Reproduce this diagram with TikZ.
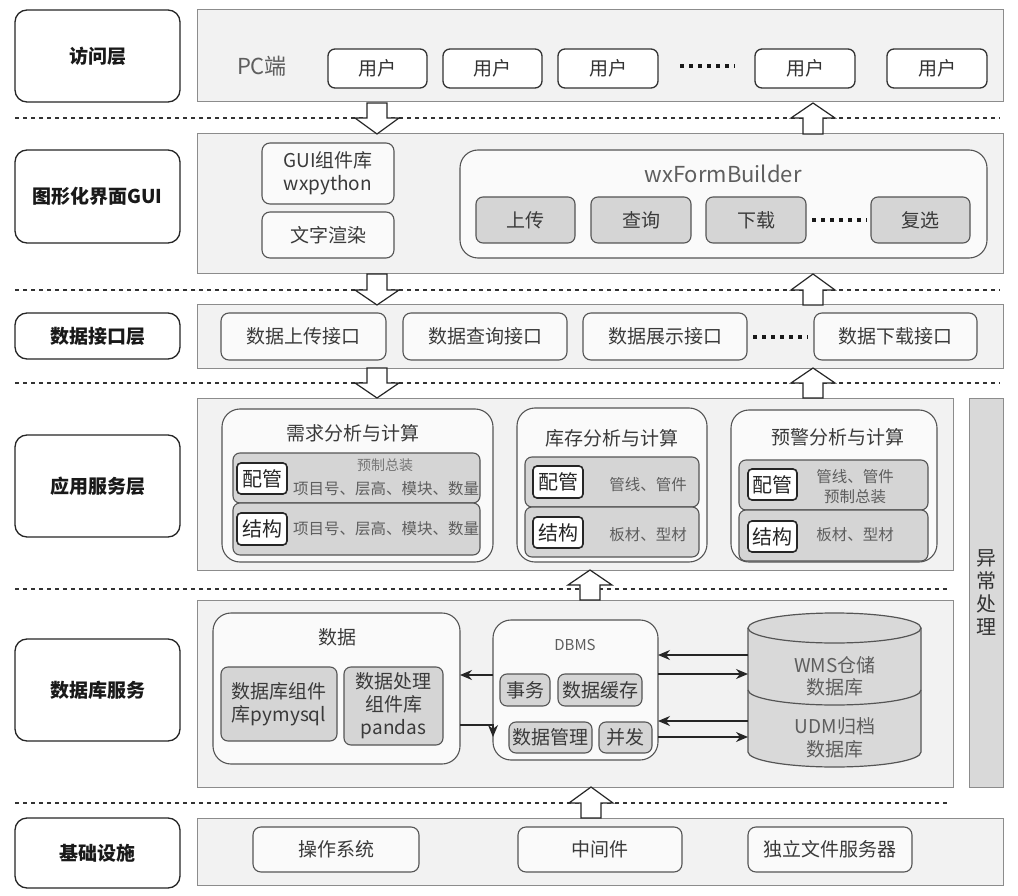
\documentclass[tikz,border=0pt]{standalone}
\usepackage{fontspec}
\setmainfont{Noto Sans CJK SC}
\usetikzlibrary{arrows.meta}
\definecolor{panelfill}{HTML}{F2F2F2}
\definecolor{panelline}{HTML}{8C8C8C}
\definecolor{boxline}{HTML}{555555}
\definecolor{gfill}{HTML}{D5D5D5}
\definecolor{wfill}{HTML}{FAFAFA}
\definecolor{txt}{HTML}{3A3A3A}
\definecolor{ltxt}{HTML}{5E5E5E}
\definecolor{exfill}{HTML}{D9D9D9}
\newcommand\fsz[2]{\fontsize{#1}{#2}\selectfont}
\newcommand\bx[7]{\node[#2, minimum width={#5-#3}, minimum height={#6-#4}] (#1) at ({(#3+#5)/2},{(#4+#6)/2}) {#7};}
\newcommand\blk[4]{\draw[blockarr] ({#1-10},#2) -- ({#1-10},#3) -- ({#1-22},#3) -- (#1,#4) -- ({#1+22},#3) -- ({#1+10},#3) -- ({#1+10},#2) -- cycle;}
\begin{document}
\begin{tikzpicture}[x=1pt,y=-1pt,
  base/.style={inner sep=0pt, outer sep=0pt, align=center, text=txt, font=\fsz{19}{23}},
  lab/.style={base, draw=black!85, line width=1.3pt, rounded corners=12pt, fill=white, text=black!90, font=\fsz{19}{23}\bfseries},
  panel/.style={base, draw=panelline, fill=panelfill, line width=1pt},
  wbox/.style={base, draw=boxline, fill=wfill, line width=1.1pt, rounded corners=8pt},
  ubox/.style={base, draw=black!80, fill=white, line width=1.3pt, rounded corners=7pt, text=black!80},
  gbox/.style={base, draw=boxline, fill=gfill, line width=1.1pt, rounded corners=7pt},
  bigbox/.style={base, draw=boxline, fill=wfill, line width=1.1pt, rounded corners=18pt},
  tagbox/.style={base, draw=black!85, fill=white, line width=1.6pt, rounded corners=4pt, text=black!85, font=\fsz{20}{24}},
  rowtxt/.style={base, text=ltxt, font=\fsz{15.5}{18}},
  smalltxt/.style={base, text=ltxt!85, font=\fsz{14}{17}},
  exbox/.style={base, draw=panelline, fill=exfill, line width=1pt},
  dashln/.style={draw=black!80, line width=1.2pt, dash pattern=on 4pt off 4pt},
  blockarr/.style={draw=black!85, fill=white, line width=1.2pt, line join=miter},
  conn/.style={draw=black!85, line width=1.2pt, -{Stealth[length=12pt,width=10pt]}},
  dotln/.style={draw=black!90, line width=3.5pt, dash pattern=on 3.5pt off 5.5pt},
  cylfill/.style={draw=boxline, fill=exfill, line width=1.2pt}
]
\useasboundingbox (0,0) rectangle (1018,896);
\fill[white] (0,0) rectangle (1018,896);

% ---- left labels
\bx{L1}{lab}{15}{10}{180}{102}{访问层}
\bx{L2}{lab}{15}{150}{180}{243}{图形化界面GUI}
\bx{L3}{lab}{15}{313}{180}{359}{数据接口层}
\bx{L4}{lab}{15}{435}{180}{537}{应用服务层}
\bx{L5}{lab}{15}{639}{180}{741}{数据库服务}
\bx{L6}{lab}{15}{818}{180}{888}{基础设施}

% ---- panels
\bx{P1}{panel}{197}{10}{1003}{102}{}
\bx{P2}{panel}{197}{134}{1003}{274}{}
\bx{P3}{panel}{197}{305}{1003}{368}{}
\bx{P4}{panel}{197}{398}{953}{570}{}
\bx{P5}{panel}{197}{600}{953}{787}{}
\bx{P6}{panel}{197}{818}{1003}{885}{}
\bx{EX}{exbox}{969}{398}{1003}{787}{}
\node[base, text=black!80, font=\fsz{20}{23}] (EXT) at (986,593) {异\\常\\处\\理};

% ---- dashed separators
\draw[dashln] (15,118) -- (1000,118);
\draw[dashln] (15,290) -- (1000,290);
\draw[dashln] (15,383) -- (1000,383);
\draw[dashln] (15,589) -- (950,589);
\draw[dashln] (15,803) -- (950,803);

% ---- block arrows
\blk{377}{103}{118}{134}
\blk{813}{134}{118}{103}
\blk{377}{274}{290}{305}
\blk{813}{305}{290}{274}
\blk{377}{368}{383}{398}
\blk{813}{398}{383}{368}
\blk{590}{600}{585}{570}
\blk{591}{818}{803}{787}

% ---- access layer
\node[base, text=ltxt, font=\fsz{22}{26}] (pc) at (262,66) {PC端};
\bx{U1}{ubox}{328}{49}{427}{88}{用户}
\bx{U2}{ubox}{443}{49}{542}{88}{用户}
\bx{U3}{ubox}{558}{49}{658}{88}{用户}
\bx{U4}{ubox}{755}{49}{855}{88}{用户}
\bx{U5}{ubox}{887}{49}{987}{88}{用户}
\draw[dotln] (680,66) -- (735,66);

% ---- GUI layer
\bx{G1}{wbox}{262}{143}{394}{204}{GUI组件库\\wxpython}
\bx{G2}{wbox}{262}{212}{394}{258}{文字渲染}
\bx{WX}{bigbox}{460}{150}{987}{258}{}
\node[base, text=ltxt, font=\fsz{22}{26}] (WXT) at (723,174) {wxFormBuilder};
\bx{B1}{gbox}{476}{197}{575}{243}{上传}
\bx{B2}{gbox}{591}{197}{691}{243}{查询}
\bx{B3}{gbox}{706}{197}{806}{243}{下载}
\bx{B4}{gbox}{871}{197}{970}{243}{复选}
\draw[dotln] (812,220) -- (867,220);

% ---- data interface layer
\bx{I1}{wbox}{221}{313}{386}{360}{数据上传接口}
\bx{I2}{wbox}{403}{313}{567}{360}{数据查询接口}
\bx{I3}{wbox}{583}{313}{747}{360}{数据展示接口}
\bx{I4}{wbox}{814}{313}{977}{360}{数据下载接口}
\draw[dotln] (753,337) -- (808,337);

% ---- application service layer
\bx{A1}{bigbox}{222}{409}{493}{562}{}
\node[base] (A1T) at (353,433) {需求分析与计算};
\bx{A1a}{gbox}{233}{453}{480}{503}{}
\bx{A1b}{gbox}{233}{503}{480}{555}{}
\bx{A1x}{tagbox}{237}{463}{287}{494}{配管}
\bx{A1y}{tagbox}{237}{513}{287}{545}{结构}
\node[smalltxt] (A1s) at (385,465) {预制总装};
\node[rowtxt] (A1r) at (386,489) {项目号、层高、模块、数量};
\node[rowtxt] (A1q) at (386,529) {项目号、层高、模块、数量};

\bx{A2}{bigbox}{517}{408}{707}{562}{}
\node[base] (A2T) at (612,438) {库存分析与计算};
\bx{A2a}{gbox}{525}{457}{699}{507}{}
\bx{A2b}{gbox}{525}{507}{699}{557}{}
\bx{A2x}{tagbox}{533}{466}{583}{498}{配管}
\bx{A2y}{tagbox}{533}{517}{583}{548}{结构}
\node[rowtxt] (A2r) at (648,485) {管线、管件};
\node[rowtxt] (A2q) at (648,535) {板材、型材};

\bx{A3}{bigbox}{731}{410}{937}{562}{}
\node[base] (A3T) at (838,437) {预警分析与计算};
\bx{A3a}{gbox}{739}{460}{928}{510}{}
\bx{A3b}{gbox}{739}{510}{928}{561}{}
\bx{A3x}{tagbox}{748}{469}{797}{500}{配管}
\bx{A3y}{tagbox}{748}{521}{797}{552}{结构}
\node[rowtxt, font=\fsz{15.5}{20}] (A3r) at (855,487) {管线、管件\\预制总装};
\node[rowtxt] (A3q) at (855,535) {板材、型材};

% ---- database service layer
\bx{D1}{bigbox}{213}{613}{460}{764}{}
\node[base] (D1T) at (337,637) {数据};
\bx{D11}{gbox}{221}{667}{337}{741}{数据库组件\\库pymysql}
\bx{D12}{gbox}{344}{667}{443}{745}{\fsz{19}{22}数据处理\\组件库\\pandas}

\bx{DM}{bigbox}{493}{620}{658}{760}{}
\node[base, text=ltxt, font=\fsz{15}{18}] (DMT) at (575,645) {DBMS};
\bx{DM1}{gbox}{500}{674}{550}{706}{事务}
\bx{DM2}{gbox}{558}{674}{642}{706}{数据缓存}
\bx{DM3}{gbox}{509}{722}{592}{753}{数据管理}
\bx{DM4}{gbox}{599}{722}{652}{753}{并发}

% cylinder
\node[base, minimum width=173, minimum height=154] (db) at (834.5,690) {};
\draw[cylfill] (748,628) -- (748,752) arc[start angle=180, end angle=0, x radius=86.5, y radius=15] -- (921,628);
\draw[cylfill] (834.5,628) ellipse [x radius=86.5, y radius=15];
\draw[draw=boxline, line width=1.2pt] (748,690) arc[start angle=180, end angle=0, x radius=86.5, y radius=15];
\node[base, text=ltxt, font=\fsz{19}{22}] (wms) at (835,676) {WMS仓储\\数据库};
\node[base, text=ltxt, font=\fsz{19}{23}] (udm) at (835,738) {UDM归档\\数据库};

% connectors
\coordinate (h1) at (0,655);
\coordinate (h2) at (0,674);
\coordinate (h3) at (0,721);
\coordinate (h4) at (0,737);
\coordinate (h5) at (0,675);
\coordinate (h6) at (0,725);
\coordinate (h7) at (493,737);
\draw[conn] (db.west |- h1) -- (DM.east |- h1);
\draw[conn] (DM.east |- h2) -- (db.west |- h2);
\draw[conn] (db.west |- h3) -- (DM.east |- h3);
\draw[conn] (DM.east |- h4) -- (db.west |- h4);
\draw[conn] (DM.west |- h5) -- (D1.east |- h5);
\draw[conn] (D1.east |- h6) -| (h7);

% ---- infrastructure
\bx{F1}{wbox}{253}{827}{419}{872}{操作系统}
\bx{F2}{wbox}{518}{827}{682}{872}{中间件}
\bx{F3}{wbox}{748}{827}{912}{872}{独立文件服务器}
\end{tikzpicture}
\end{document}
